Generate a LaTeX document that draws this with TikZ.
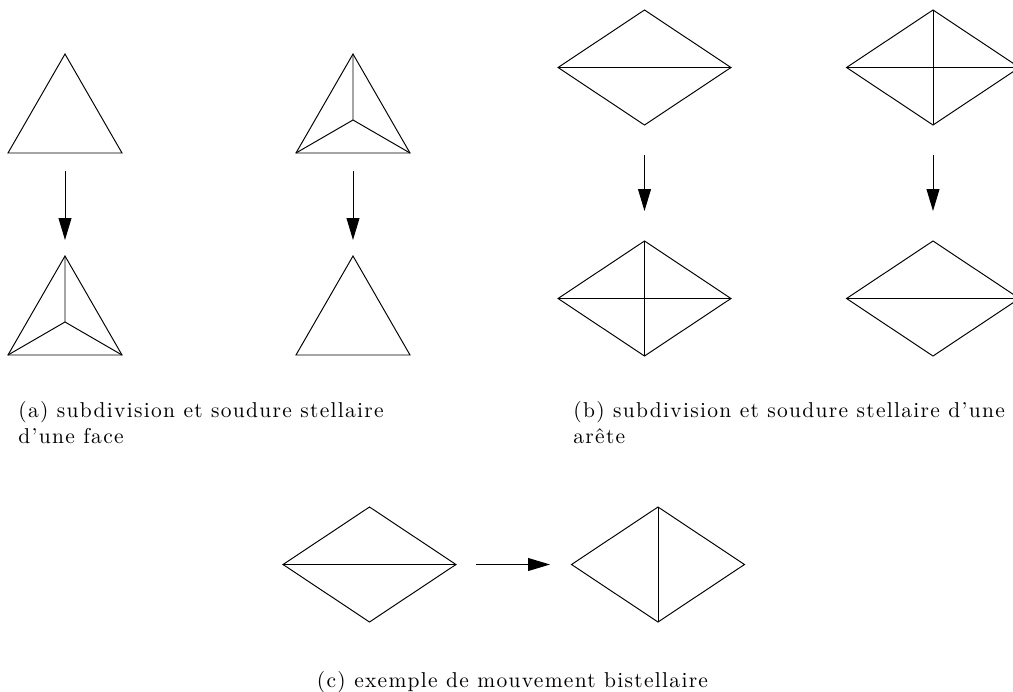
\documentclass[tikz,border=0pt]{standalone}
\usepackage{fontspec}
\setmainfont{Latin Modern Roman}[LetterSpace=6]
\usepackage{tikz}
\usetikzlibrary{arrows.meta}
\tikzset{
  edge/.style    = {line width=0.45pt, line join=miter},
  ar/.style      = {-{Triangle[length=10.2pt,width=6pt]}, line width=0.45pt},
  caption/.style = {anchor=base west, align=left, inner sep=0pt,
                    font=\fontsize{10}{11.7}\selectfont},
  % triangle around its centroid: corners -l, -r, -t and centre -c
  tri/.pic       = {\coordinate (-l) at (-57,33); \coordinate (-r) at (57,33);
                    \coordinate (-t) at (0,-66); \coordinate (-c) at (0,0);
                    \draw[edge] (-l) -- (-r) -- (-t) -- cycle;},
  % lozenge around its centre: corners -w, -e, -n, -s
  losange/.pic   = {\coordinate (-w) at (-86.5,0); \coordinate (-e) at (86.5,0);
                    \coordinate (-n) at (0,-57.5); \coordinate (-s) at (0,57.5);
                    \draw[edge] (-w) -- (-n) -- (-e) -- (-s) -- cycle;},
}

\begin{document}
\begin{tikzpicture}[x=0.01635cm, y=-0.01635cm]

  \clip (0,0) rectangle (1013,692);

  % (a) face: subdivision then welding back
  \pic (fa1) at (65,120) {tri};
  \pic (fa2) at (65,322) {tri};
  \draw[edge] (fa2-c) -- (fa2-l) (fa2-c) -- (fa2-r) (fa2-c) -- (fa2-t);
  \coordinate (fa-from) at (65,171);
  \coordinate (fa-to)   at (65,240);
  \draw[ar] (fa-from) -- (fa-to);

  \pic (fb1) at (353,120) {tri};
  \draw[edge] (fb1-c) -- (fb1-l) (fb1-c) -- (fb1-r) (fb1-c) -- (fb1-t);
  \pic (fb2) at (353,322) {tri};
  \coordinate (fb-from) at (353,171);
  \coordinate (fb-to)   at (353,240);
  \draw[ar] (fb-from) -- (fb-to);

  % (b) edge
  \pic (ea1) at (644.5,67.5) {losange};
  \draw[edge] (ea1-w) -- (ea1-e);
  \pic (ea2) at (644.5,298.5) {losange};
  \draw[edge] (ea2-w) -- (ea2-e) (ea2-n) -- (ea2-s);
  \coordinate (ea-from) at (644.5,155);
  \coordinate (ea-to)   at (644.5,211);
  \draw[ar] (ea-from) -- (ea-to);

  \pic (eb1) at (933,67.5) {losange};
  \draw[edge] (eb1-w) -- (eb1-e) (eb1-n) -- (eb1-s);
  \pic (eb2) at (933,298.5) {losange};
  \draw[edge] (eb2-w) -- (eb2-e);
  \coordinate (eb-from) at (933,155);
  \coordinate (eb-to)   at (933,211);
  \draw[ar] (eb-from) -- (eb-to);

  % (c) flip of the diagonal
  \pic (fl1) at (369.5,564.5) {losange};
  \draw[edge] (fl1-w) -- (fl1-e);
  \pic (fl2) at (658,564.5) {losange};
  \draw[edge] (fl2-n) -- (fl2-s);
  \coordinate (fl-from) at (476,564.5);
  \coordinate (fl-to)   at (550,564.5);
  \draw[ar] (fl-from) -- (fl-to);

  % captions
  \node[caption] (capa) at (18,443)
       {(a) subdivision et soudure stellaire\\d'une face};
  \node[caption] (capb) at (573,443)
       {(b) subdivision et soudure stellaire d'une\\arête};
  \node[caption, anchor=base] (capc) at (512.5,687)
       {(c) exemple de mouvement bistellaire};

\end{tikzpicture}
\end{document}
